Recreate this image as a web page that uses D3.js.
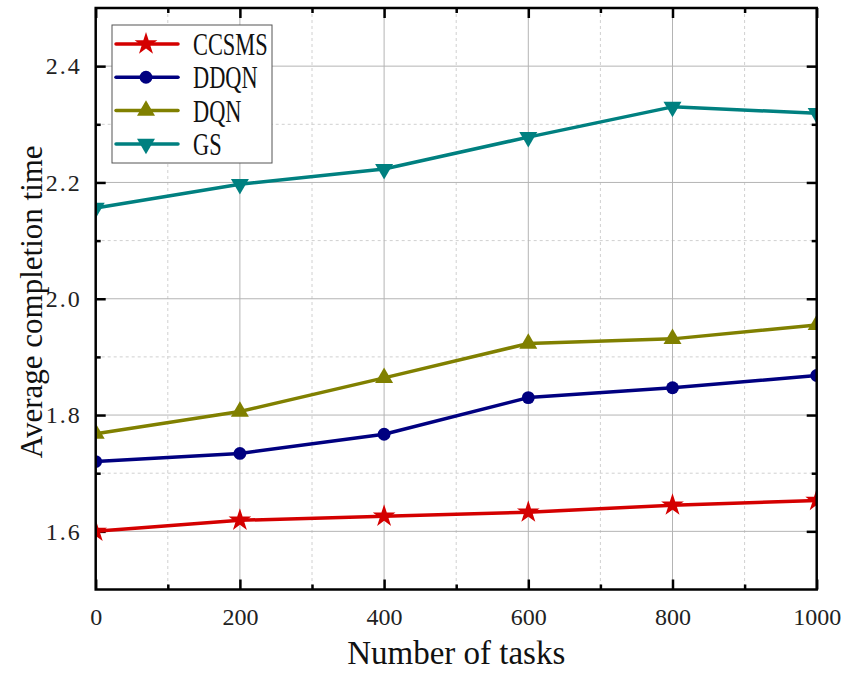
<!DOCTYPE html>
<html><head><meta charset="utf-8">
<script src="https://cdn.jsdelivr.net/npm/d3@7"></script>
<style>body{margin:0;background:#fff}</style>
</head><body>
<svg id="c" width="845" height="673"></svg>
<script>
const tasks = [0, 200, 400, 600, 800, 1000];
const ccsms = [1.600, 1.619, 1.626, 1.633, 1.645, 1.653];
const ddqn  = [1.720, 1.734, 1.767, 1.830, 1.847, 1.868];
const dqn   = [1.768, 1.806, 1.864, 1.923, 1.931, 1.955];
const gs    = [2.156, 2.197, 2.223, 2.278, 2.330, 2.319];
const seriesNames = ["CCSMS", "DDQN", "DQN", "GS"];
const xTicks = [0, 200, 400, 600, 800, 1000];
const yTicks = [1.6, 1.8, 2.0, 2.2, 2.4];
const xMinor = [100, 300, 500, 700, 900];
const yMinor = [1.5, 1.7, 1.9, 2.1, 2.3, 2.5];

const series = [
  {name: seriesNames[0], values: ccsms, color: "#d40000", sym: d3.symbolStar, size: 160},
  {name: seriesNames[1], values: ddqn,  color: "#000080", sym: d3.symbolCircle, size: 130},
  {name: seriesNames[2], values: dqn,   color: "#808000", sym: d3.symbolTriangle, size: 140},
  {name: seriesNames[3], values: gs,    color: "#008080", sym: d3.symbolTriangle, size: 140, flip: true}
];

const L = 95.7, R = 816.7, T = 8, B = 589.5;
const x = d3.scaleLinear().domain([0, 1000]).range([L, R]);
const y = d3.scaleLinear().domain([1.5, 2.5]).range([B, T]);
const svg = d3.select("#c");
const serif = "'Liberation Serif', 'DejaVu Serif', serif";

// grid
const g = svg.append("g");
g.selectAll(".gxm").data(xMinor).join("line")
  .attr("x1", d => x(d)).attr("x2", d => x(d)).attr("y1", T).attr("y2", B)
  .attr("stroke", "#d0d0d0").attr("stroke-width", 1).attr("stroke-dasharray", "3,3");
g.selectAll(".gym").data(yMinor).join("line")
  .attr("y1", d => y(d)).attr("y2", d => y(d)).attr("x1", L).attr("x2", R)
  .attr("stroke", "#d0d0d0").attr("stroke-width", 1).attr("stroke-dasharray", "3,3");
g.selectAll(".gx").data(xTicks).join("line")
  .attr("x1", d => x(d)).attr("x2", d => x(d)).attr("y1", T).attr("y2", B)
  .attr("stroke", "#b4b4b4").attr("stroke-width", 1);
g.selectAll(".gy").data(yTicks).join("line")
  .attr("y1", d => y(d)).attr("y2", d => y(d)).attr("x1", L).attr("x2", R)
  .attr("stroke", "#b4b4b4").attr("stroke-width", 1);

// axes with inward ticks
function addAxis(axisFn, scale, ticks, len, transform, fmt) {
  const a = axisFn(scale).tickValues(ticks).tickSizeInner(-len).tickSizeOuter(0);
  if (fmt) a.tickFormat(fmt); else a.tickFormat("");
  const gg = svg.append("g").attr("transform", transform).call(a);
  gg.select(".domain").remove();
  gg.selectAll(".tick line").attr("stroke", "#000").attr("stroke-width", 2.5);
  gg.selectAll(".tick text").attr("font-family", serif).attr("font-size", 24).attr("fill", "#222");
  return gg;
}
const bx = addAxis(d3.axisBottom, x, xTicks, 10, `translate(0,${B})`, d3.format("d"));
bx.selectAll(".tick text").attr("dy", null).attr("y", 35);
addAxis(d3.axisBottom, x, xMinor, 5, `translate(0,${B})`, null);
const ly = addAxis(d3.axisLeft, y, yTicks, 10, `translate(${L},0)`, d3.format(".1f"));
ly.selectAll(".tick text").attr("x", -14).attr("letter-spacing", "2px");
addAxis(d3.axisLeft, y, yMinor.filter(v => v > 1.5 && v < 2.5), 5, `translate(${L},0)`, null);
addAxis(d3.axisTop, x, xTicks, 10, `translate(0,${T})`, null);
addAxis(d3.axisTop, x, xMinor, 5, `translate(0,${T})`, null);
addAxis(d3.axisRight, y, yTicks, 10, `translate(${R},0)`, null);
addAxis(d3.axisRight, y, yMinor.filter(v => v > 1.5 && v < 2.5), 5, `translate(${R},0)`, null);

// lines
const line = d3.line().x((d, i) => x(tasks[i])).y(d => y(d));
svg.append("clipPath").attr("id", "clp").append("rect")
  .attr("x", L).attr("y", T).attr("width", R - L).attr("height", B - T);
const plot = svg.append("g").attr("clip-path", "url(#clp)");
series.forEach(s => {
  plot.append("path").datum(s.values).attr("d", line)
    .attr("fill", "none").attr("stroke", s.color).attr("stroke-width", 3.5).attr("stroke-linejoin", "round");
  plot.selectAll(null).data(s.values).join("path")
    .attr("d", d3.symbol().type(s.sym).size(s.size))
    .attr("transform", (d, i) => `translate(${x(tasks[i])},${y(d)})` + (s.flip ? " rotate(180)" : ""))
    .attr("fill", s.color);
});

// frame
svg.append("rect").attr("x", L).attr("y", T).attr("width", R - L).attr("height", B - T)
  .attr("fill", "none").attr("stroke", "#000").attr("stroke-width", 2.5);

// legend
const lg = svg.append("g");
lg.append("rect").attr("x", 112).attr("y", 25).attr("width", 160).attr("height", 138)
  .attr("fill", "#fff").attr("stroke", "#555").attr("stroke-width", 1);
series.forEach((s, i) => {
  const yy = 44 + i * 33.3;
  lg.append("line").attr("x1", 116).attr("x2", 178).attr("y1", yy).attr("y2", yy)
    .attr("stroke", s.color).attr("stroke-width", 3.5).attr("stroke-linecap", "round");
  lg.append("path").attr("d", d3.symbol().type(s.sym).size(s.size)())
    .attr("transform", `translate(146,${yy})` + (s.flip ? " rotate(180)" : ""))
    .attr("fill", s.color);
  lg.append("text").attr("x", 0).attr("y", 0)
    .attr("transform", `translate(193,${yy + 11}) scale(0.7,1)`)
    .attr("font-family", serif).attr("font-size", 32).attr("fill", "#111")
    .text(s.name);
});

// titles
svg.append("text").attr("x", (L + R) / 2).attr("y", 664).attr("text-anchor", "middle")
  .attr("font-family", serif).attr("font-size", 33).attr("fill", "#111").text("Number of tasks");
svg.append("text").attr("transform", `translate(42,${(T + B) / 2 + 3}) rotate(-90)`)
  .attr("text-anchor", "middle").attr("font-family", serif).attr("font-size", 31).attr("fill", "#111")
  .text("Average completion time");
</script>
</body></html>
